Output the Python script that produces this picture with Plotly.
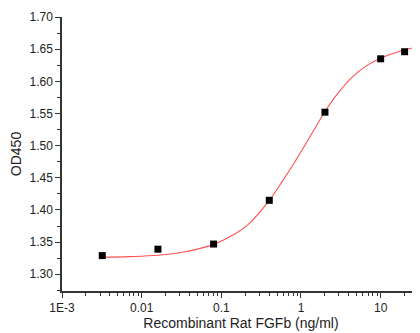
import plotly.graph_objects as go

# measured points
conc = [0.0032, 0.016, 0.08, 0.4, 2.0, 10.0, 20.0]
od450 = [1.329, 1.339, 1.347, 1.415, 1.552, 1.635, 1.646]

# fitted curve
curve_x = [0.0032, 0.007, 0.016, 0.035, 0.08, 0.14, 0.22, 0.4, 0.58, 0.93,
           1.5, 2.0, 2.8, 4.6, 7.0, 10.0, 15.0, 20.0, 32.0]
curve_y = [1.3267, 1.3275, 1.3295, 1.335, 1.3465, 1.361, 1.378, 1.415, 1.444, 1.484,
           1.527, 1.553, 1.579, 1.609, 1.626, 1.636, 1.644, 1.649, 1.655]

x_tickvals = [0.001, 0.01, 0.1, 1, 10]
x_ticktext = ["1E-3", "0.01", "0.1", "1", "10"]
x_minor = [m * 10 ** e for e in range(-3, 2) for m in range(2, 10)]
y_tickvals = [1.30, 1.35, 1.40, 1.45, 1.50, 1.55, 1.60, 1.65, 1.70]
y_ticktext = ["%.2f" % v for v in y_tickvals]

fig = go.Figure()
fig.add_trace(go.Scatter(x=curve_x, y=curve_y, mode="lines", line_shape="spline",
                         line=dict(color="#ff5050", width=1.1, smoothing=1.0),
                         hoverinfo="skip"))
fig.add_trace(go.Scatter(x=conc, y=od450, mode="markers",
                         marker=dict(symbol="square", size=7, color="black")))

axis_col = "#333333"
fig.update_layout(
    width=412, height=325,
    margin=dict(l=54, r=0, t=9, b=42),
    paper_bgcolor="white", plot_bgcolor="white",
    showlegend=False,
    font=dict(family="Liberation Sans, Arial, sans-serif", size=12, color="#222222"),
    xaxis=dict(type="log", range=[-3, 1.494], showgrid=False, zeroline=False,
               automargin=False,
               showline=True, linecolor=axis_col, linewidth=1.5,
               ticks="outside", ticklen=5, tickwidth=1.2, tickcolor=axis_col,
               tickvals=x_tickvals, ticktext=x_ticktext,
               minor=dict(tickvals=x_minor, ticks="outside", ticklen=3,
                          tickwidth=1, tickcolor=axis_col, showgrid=False),
               title=dict(text="Recombinant Rat FGFb (ng/ml)", font=dict(size=14), standoff=4)),
    yaxis=dict(range=[1.274, 1.70], showgrid=False, zeroline=False,
               automargin=False,
               showline=True, linecolor=axis_col, linewidth=1.5,
               ticks="outside", ticklen=5, tickwidth=1.2, tickcolor=axis_col,
               tickvals=y_tickvals, ticktext=y_ticktext,
               minor=dict(dtick=0.025, ticks="outside", ticklen=3,
                          tickwidth=1, tickcolor=axis_col, showgrid=False),
               title=dict(text="OD450", font=dict(size=14), standoff=8)),
)

fig.write_html("out.html")
